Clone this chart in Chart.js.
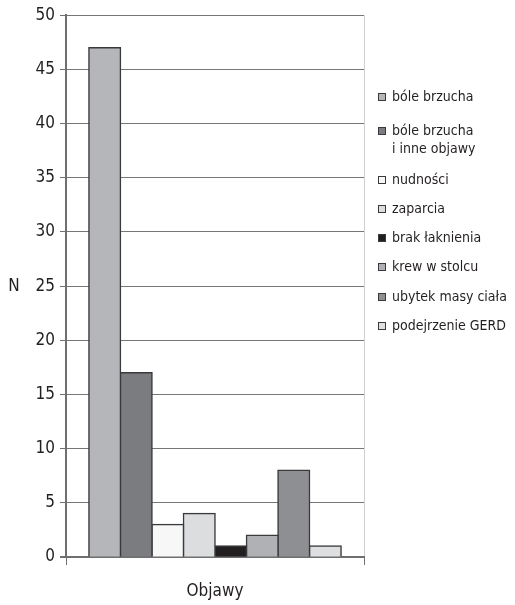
<!DOCTYPE html>
<html>
<head>
<meta charset="utf-8">
<script src="https://cdn.jsdelivr.net/npm/chart.js@4/dist/chart.umd.min.js"></script>
<style>
  html, body { margin: 0; padding: 0; background: #fff; }
  #wrap { width: 515px; height: 605px; }
</style>
</head>
<body>
<div id="wrap"><canvas id="c" width="515" height="605"></canvas></div>
<script>
// Symptom counts
const categories = [''];
const seriesLabels = [
  ['bóle brzucha'],
  ['bóle brzucha', 'i inne objawy'],
  ['nudności'],
  ['zaparcia'],
  ['brak łaknienia'],
  ['krew w stolcu'],
  ['ubytek masy ciała'],
  ['podejrzenie GERD']
];
const seriesValues = [47, 17, 3, 4, 1, 2, 8, 1];
const yTicks = [0, 5, 10, 15, 20, 25, 30, 35, 40, 45, 50];
const xTitle = 'Objawy';
const yTitle = 'N';

const fills = ['#b5b6b9', '#7b7c80', '#f7f7f7', '#dcdddf', '#231f20', '#b0b1b4', '#8e8f92', '#dedfe1'];
const FONT = "'DejaVu Sans Condensed', 'Liberation Sans Narrow', 'Arial Narrow', sans-serif";
const INK = '#231f20';

const datasets = seriesValues.map((v, i) => ({
  label: seriesLabels[i].join(' '),
  lines: seriesLabels[i],
  data: [v],
  backgroundColor: fills[i],
  borderColor: '#3a3a3c',
  borderWidth: 1.5,
  inflateAmount: 0.8,
  categoryPercentage: 0.846,
  barPercentage: 1.0
}));

// Side legend, horizontal axis letter and the short left stub of the base line
const decorations = {
  id: 'decorations',
  afterDraw(chart) {
    const ctx = chart.ctx;
    const ya = chart.scales.y;
    const area = chart.chartArea;
    ctx.save();
    ctx.strokeStyle = '#6f6f6f';
    ctx.lineWidth = 2;
    ctx.beginPath();
    ctx.moveTo(area.left - 6, ya.getPixelForValue(0));
    ctx.lineTo(area.left, ya.getPixelForValue(0));
    ctx.stroke();

    ctx.font = '14px ' + FONT;
    ctx.textBaseline = 'middle';
    ctx.textAlign = 'left';
    const rowY = [97, 131, 180, 209, 238, 267, 297, 326];
    chart.data.datasets.forEach((ds, i) => {
      const y = rowY[i];
      ctx.fillStyle = ds.backgroundColor;
      ctx.strokeStyle = '#3a3a3c';
      ctx.lineWidth = 1;
      ctx.fillRect(378.5, y - 3.5, 7, 7);
      ctx.strokeRect(378.5, y - 3.5, 7, 7);
      ctx.fillStyle = INK;
      ds.lines.forEach((t, k) => ctx.fillText(t, 392, y + k * 18));
    });
    ctx.font = '17px ' + FONT;
    ctx.textAlign = 'center';
    ctx.fillText(yTitle, 14, ya.getPixelForValue(25));
    ctx.restore();
  }
};

new Chart(document.getElementById('c'), {
  type: 'bar',
  data: { labels: categories, datasets },
  options: {
    responsive: false,
    animation: false,
    layout: { padding: { top: 15, right: 151, left: 0, bottom: 0 } },
    plugins: { legend: { display: false }, tooltip: { enabled: false } },
    scales: {
      x: {
        grid: { color: '#cfcfcf', lineWidth: 1, tickColor: '#6f6f6f', tickLength: 8, offset: true },
        border: { color: '#6f6f6f', width: 2 },
        ticks: { display: true, font: { family: FONT, size: 16 }, color: INK },
        title: { display: true, text: xTitle, color: INK, font: { family: FONT, size: 17 }, padding: { top: 0, bottom: 3 } },
        afterFit(s) { s.height = 48; }
      },
      y: {
        min: 0, max: 50,
        afterBuildTicks(s) { s.ticks = yTicks.map(v => ({ value: v })); },
        grid: { color: '#777777', lineWidth: 1, tickColor: '#6f6f6f', tickLength: 6 },
        border: { color: '#6f6f6f', width: 2 },
        ticks: { font: { family: FONT, size: 17 }, color: INK, padding: 5 },
        afterFit(s) { s.width = 66; }
      }
    }
  },
  plugins: [decorations]
});
</script>
</body>
</html>
